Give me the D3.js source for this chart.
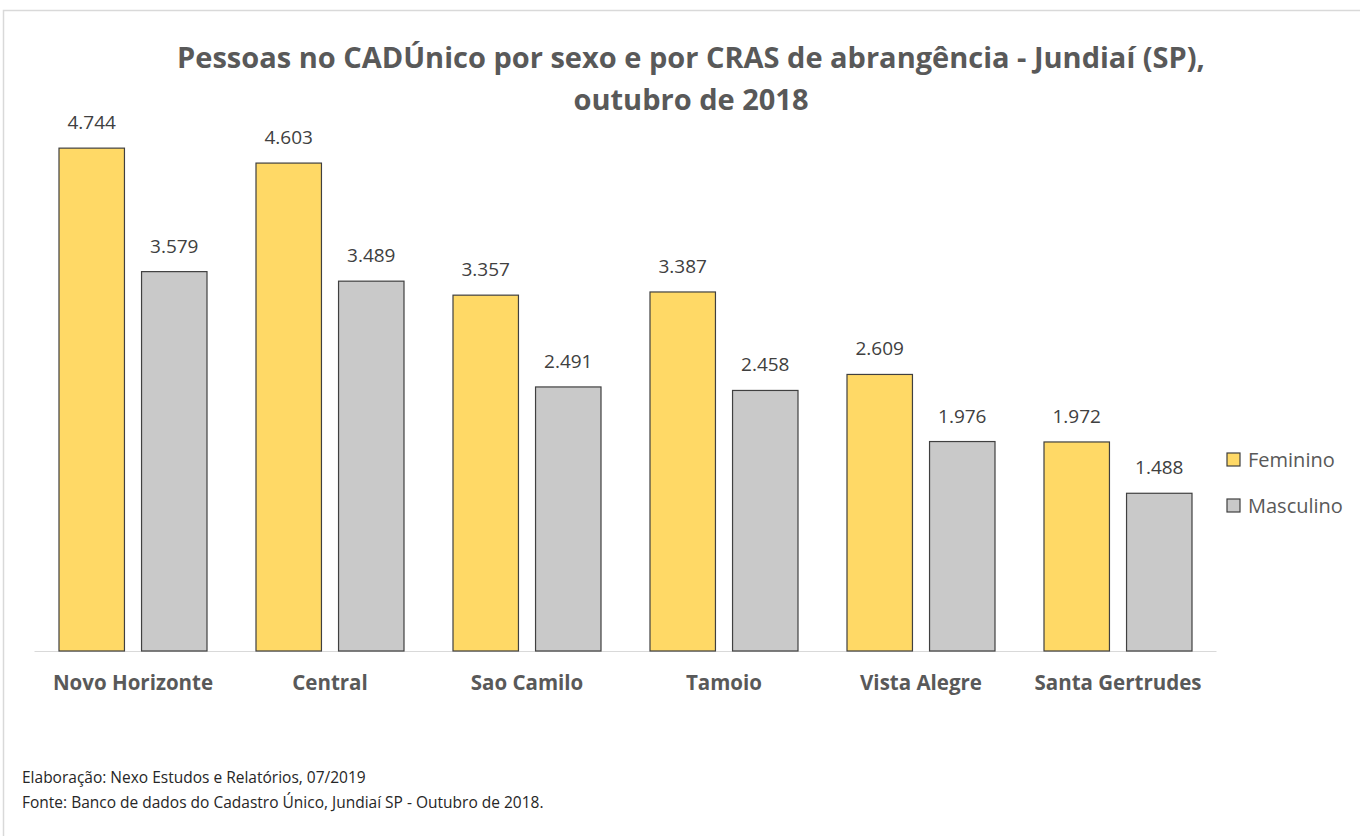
<!DOCTYPE html>
<html>
<head>
<meta charset="utf-8">
<script src="https://cdn.jsdelivr.net/npm/d3@7"></script>
<style>
  body { margin: 0; background: #fff; }
  svg text { font-family: "Open Sans", "Noto Sans", sans-serif; }
</style>
</head>
<body>
<svg id="canvas" width="1360" height="836"></svg>
<script>
const categories = ["Novo Horizonte", "Central", "Sao Camilo", "Tamoio", "Vista Alegre", "Santa Gertrudes"];
const feminino = [4744, 4603, 3357, 3387, 2609, 1972];
const masculino = [3579, 3489, 2491, 2458, 1976, 1488];
const seriesNames = ["Feminino", "Masculino"];
const seriesColors = ["#FFD966", "#C9C9C9"];

const rows = categories.map((c, i) => ({ cat: c, values: [feminino[i], masculino[i]] }));

const svg = d3.select("#canvas");

// outer frame
svg.append("rect")
    .attr("x", 3.5).attr("y", 10.5)
    .attr("width", 1400).attr("height", 900)
    .attr("fill", "none").attr("stroke", "#D9D9D9").attr("stroke-width", 1.5);

const plotLeft = 34.5, plotRight = 1216.5, plotTop = 121, plotBottom = 651;

const x0 = d3.scaleBand().domain(categories).range([plotLeft, plotRight]).paddingInner(0).paddingOuter(0);
const x1 = d3.scaleBand().domain(seriesNames).range([24.5, x0.bandwidth() - 24.5]).paddingInner(0.207);
const y = d3.scaleLinear().domain([0, 5000]).range([plotBottom, plotTop]);

const fmt = d3.formatLocale({ decimal: ",", thousands: ".", grouping: [3], currency: ["R$", ""] }).format(",d");

// title
const title = svg.append("text")
    .attr("text-anchor", "middle")
    .attr("fill", "#595959")
    .attr("font-weight", "bold")
    .attr("font-size", 29);
title.append("tspan").attr("x", 691).attr("y", 68).text("Pessoas no CADÚnico por sexo e por CRAS de abrangência - Jundiaí (SP),");
title.append("tspan").attr("x", 691).attr("y", 110).text("outubro de 2018");

// baseline
svg.append("line")
    .attr("x1", plotLeft).attr("x2", plotRight)
    .attr("y1", plotBottom + 0.5).attr("y2", plotBottom + 0.5)
    .attr("stroke", "#D9D9D9").attr("stroke-width", 1);

const groups = svg.selectAll("g.group")
    .data(rows)
    .enter()
    .append("g")
    .attr("class", "group")
    .attr("transform", d => `translate(${x0(d.cat)},0)`);

const bars = groups.selectAll("g.bar")
    .data(d => d.values.map((v, i) => ({ key: seriesNames[i], value: v, i: i })))
    .enter()
    .append("g")
    .attr("class", "bar");

bars.append("rect")
    .attr("x", d => x1(d.key))
    .attr("y", d => y(d.value))
    .attr("width", x1.bandwidth())
    .attr("height", d => plotBottom - y(d.value))
    .attr("fill", d => seriesColors[d.i])
    .attr("stroke", "#404040")
    .attr("stroke-width", 1.2);

bars.append("text")
    .attr("x", d => x1(d.key) + x1.bandwidth() / 2)
    .attr("y", d => y(d.value) - 19)
    .attr("text-anchor", "middle")
    .attr("font-size", 19)
    .attr("fill", "#404040")
    .text(d => fmt(d.value));

// category axis labels
svg.selectAll("text.cat")
    .data(categories)
    .enter()
    .append("text")
    .attr("class", "cat")
    .attr("x", d => x0(d) + x0.bandwidth() / 2)
    .attr("y", 690)
    .attr("text-anchor", "middle")
    .attr("font-size", 20.5)
    .attr("font-weight", "bold")
    .attr("fill", "#595959")
    .text(d => d);

// legend
const legend = svg.selectAll("g.legend")
    .data(seriesNames)
    .enter()
    .append("g")
    .attr("class", "legend")
    .attr("transform", (d, i) => `translate(1227,${453 + i * 46})`);

legend.append("rect")
    .attr("width", 13).attr("height", 13)
    .attr("fill", (d, i) => seriesColors[i])
    .attr("stroke", "#404040").attr("stroke-width", 1.2);

legend.append("text")
    .attr("x", 21).attr("y", 14)
    .attr("font-size", 20)
    .attr("fill", "#595959")
    .text(d => d);

// footer
const notes = ["Elaboração: Nexo Estudos e Relatórios, 07/2019",
               "Fonte: Banco de dados do Cadastro Único, Jundiaí SP - Outubro de 2018."];
svg.selectAll("text.note")
    .data(notes)
    .enter()
    .append("text")
    .attr("class", "note")
    .attr("x", 22)
    .attr("y", (d, i) => 783 + i * 25)
    .attr("font-size", 15.5)
    .attr("fill", "#262626")
    .text(d => d);
</script>
</body>
</html>
